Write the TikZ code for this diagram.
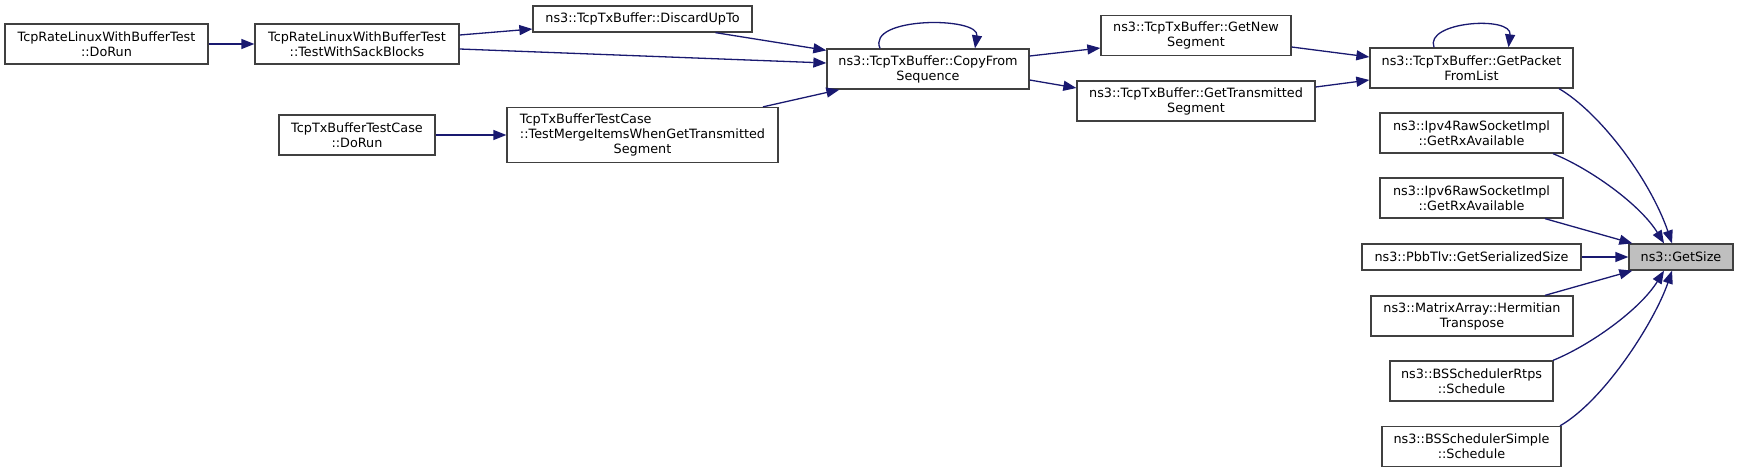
\documentclass[tikz,border=0pt]{standalone}
\usepackage{fontspec}
\setmainfont{DejaVu Sans}
\usetikzlibrary{arrows.meta,calc}
\definecolor{edgeblue}{HTML}{191970}
\definecolor{boxgray}{HTML}{404040}
\definecolor{fillgray}{HTML}{BFBFBF}
\begin{document}
\begin{tikzpicture}[x=1pt,y=-1pt,
  box/.style={draw=boxgray, line width=1.3pt, inner sep=0pt, align=center, fill=white,
    font=\fontsize{12.8}{15}\selectfont},
  edge/.style={draw=edgeblue, line width=1.3pt, -{Triangle[length=13pt,width=10pt]}}]
\useasboundingbox (0,0) rectangle (1739,472);
% nodes
\node[box, minimum width=203pt, minimum height=40pt] (dorun1) at (106.5,44) {TcpRateLinuxWithBufferTest\\::DoRun};
\node[box, minimum width=204pt, minimum height=40pt] (sack) at (357,44) {TcpRateLinuxWithBufferTest\\::TestWithSackBlocks};
\node[box, minimum width=156pt, minimum height=40pt] (dorun3) at (357,135) {TcpTxBufferTestCase\\::DoRun};
\node[box, minimum width=219pt, minimum height=26pt] (discard) at (642.5,19) {ns3::TcpTxBuffer::DiscardUpTo};
\node[box, minimum width=202pt, minimum height=40pt] (copy) at (928,69) {ns3::TcpTxBuffer::CopyFrom\\Sequence};
\node[box, minimum width=271pt, minimum height=55pt] (merge) at (642.5,135) {\begin{tabular}{@{}l@{}}TcpTxBufferTestCase\\::TestMergeItemsWhenGetTransmitted\\\multicolumn{1}{@{}c@{}}{Segment}\end{tabular}};
\node[box, minimum width=190pt, minimum height=40pt] (getnew) at (1196,35.5) {ns3::TcpTxBuffer::GetNew\\Segment};
\node[box, minimum width=238pt, minimum height=40pt] (gettrans) at (1196,101) {ns3::TcpTxBuffer::GetTransmitted\\Segment};
\node[box, minimum width=203pt, minimum height=40pt] (getpacket) at (1471.5,68) {ns3::TcpTxBuffer::GetPacket\\FromList};
\node[box, minimum width=183pt, minimum height=40pt] (ipv4) at (1471.5,133) {ns3::Ipv4RawSocketImpl\\::GetRxAvailable};
\node[box, minimum width=183pt, minimum height=40pt] (ipv6) at (1471.5,198) {ns3::Ipv6RawSocketImpl\\::GetRxAvailable};
\node[box, minimum width=219pt, minimum height=26pt] (pbb) at (1471.5,257) {ns3::PbbTlv::GetSerializedSize};
\node[box, fill=fillgray, minimum width=104pt, minimum height=26pt] (getsize) at (1681,257) {ns3::GetSize};
\node[box, minimum width=202pt, minimum height=40pt] (matrix) at (1472,316) {ns3::MatrixArray::Hermitian\\Transpose};
\node[box, minimum width=163pt, minimum height=40pt] (rtps) at (1471.5,381) {ns3::BSSchedulerRtps\\::Schedule};
\node[box, minimum width=179pt, minimum height=40pt] (simple) at (1471.5,446.5) {ns3::BSSchedulerSimple\\::Schedule};
% edges
\draw[edge] (dorun1.east) -- (sack.west);
\draw[edge] ($(sack.east)+(0,-9)$) -- ($(discard.west)+(0,10)$);
\draw[edge] ($(sack.east)+(0,5)$) -- ($(copy.west)+(0,-6)$);
\draw[edge] ($(discard.south)+(73,0)$) -- ($(copy.north west)+(0,2)$);
\draw[edge] ($(merge.north)+(120.5,0)$) -- ($(copy.south west)+(13,0)$);
\draw[edge] (dorun3.east) -- (merge.west);
\draw[edge] ($(copy.north)+(-48,0)$) .. controls +(-14,-32) and +(5,-32) .. ($(copy.north)+(47,0)$);
\draw[edge] ($(copy.east)+(0,-13)$) -- ($(getnew.west)+(0,12.5)$);
\draw[edge] ($(copy.east)+(0,11)$) -- ($(gettrans.west)+(0,-13)$);
\draw[edge] ($(getnew.east)+(0,11.5)$) -- ($(getpacket.west)+(0,-11)$);
\draw[edge] ($(gettrans.east)+(0,-14)$) -- ($(getpacket.west)+(0,12)$);
\draw[edge] ($(getpacket.north)+(-37.5,0)$) .. controls +(-10,-26) and +(4,-32) .. ($(getpacket.north)+(37,0)$);
\draw[edge] ($(getpacket.south)+(87.5,0)$) .. controls +(41,24) and +(-22,-64) .. ($(getsize.north)+(-9,0)$);
\draw[edge] ($(ipv4.south)+(81.5,0)$) .. controls +(37,15) and +(-24,-39) .. ($(getsize.north)+(-17,0)$);
\draw[edge] ($(ipv6.south)+(73.5,0)$) -- ($(getsize.north west)+(4,0)$);
\draw[edge] (pbb.east) -- (getsize.west);
\draw[edge] ($(matrix.north)+(73,0)$) -- ($(getsize.south west)+(4,0)$);
\draw[edge] ($(rtps.north)+(81.5,0)$) .. controls +(37,-15) and +(-24,39) .. ($(getsize.south)+(-17,0)$);
\draw[edge] ($(simple.north)+(88.5,0)$) .. controls +(45,-26) and +(-17,50) .. ($(getsize.south)+(-9,0)$);
\end{tikzpicture}
\end{document}
